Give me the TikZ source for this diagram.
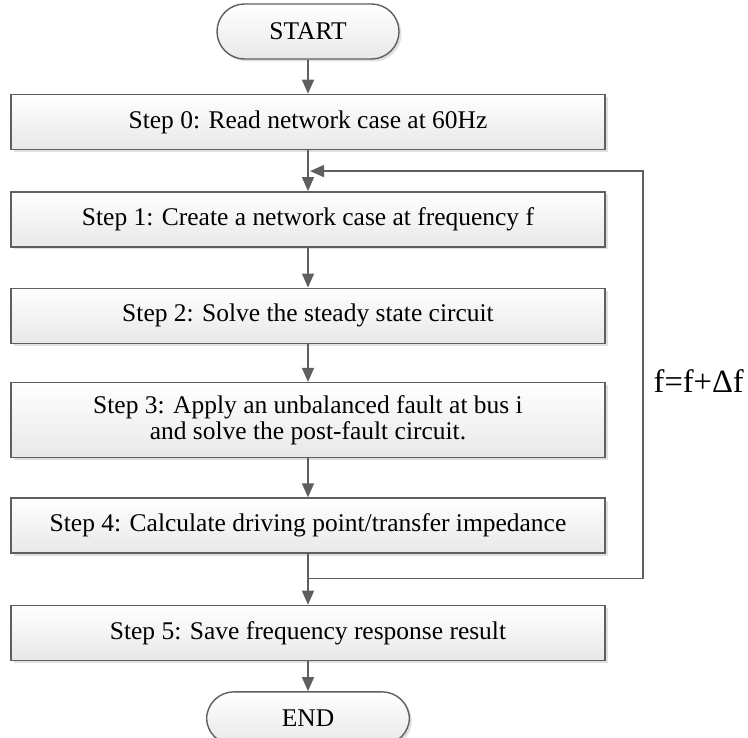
\documentclass[tikz,border=0pt]{standalone}
\usepackage{fontspec}
\setmainfont{Liberation Serif}
\usetikzlibrary{positioning,arrows.meta,shadows}

\definecolor{linegray}{HTML}{5F5F5F}

\tikzset{
  stepbox/.style={draw=linegray, line width=0.8pt, top color=white, bottom color=black!9,
    minimum width=11.88cm, minimum height=1.1cm, align=center,
    drop shadow={shadow xshift=0.05cm, shadow yshift=-0.05cm, fill=black!12, opacity=1}},
  term/.style={stepbox, rounded corners=0.55cm, minimum width=3.64cm},
  arr/.style={draw=linegray, line width=0.8pt, -{Triangle[length=0.28cm,width=0.24cm]}},
  every node/.style={font=\fontsize{14.5}{15}\selectfont},
}

\begin{document}
\begin{tikzpicture}
  \useasboundingbox (0,0) rectangle (14.96,-14.76);

  \node[term] (start) at (6.16,-0.63) {START};
  \node[stepbox, below=0.68cm of start] (step0) {Step 0: Read network case at 60Hz};
  \node[stepbox, below=0.82cm of step0] (step1) {Step 1: Create a network case at frequency f};
  \node[stepbox, below=0.8cm of step1] (step2) {Step 2: Solve the steady state circuit};
  \node[stepbox, below=0.76cm of step2, minimum height=1.5cm] (step3)
    {Step 3: Apply an unbalanced fault at bus i\\ and solve the post-fault circuit.};
  \node[stepbox, below=0.78cm of step3] (step4) {Step 4: Calculate driving point/transfer impedance};
  \node[stepbox, below=1.02cm of step4] (step5) {Step 5: Save frequency response result};
  \node[term, below=0.6cm of step5, minimum width=4.06cm, minimum height=1.06cm] (end) {END};

  % joints of the frequency loop
  \coordinate[below=0.42cm of step0] (back);
  \coordinate[below=0.5cm of step4] (merge);

  \draw[arr] (start) -- (step0);
  \draw[arr] (step0) -- (step1);
  \draw[arr] (step1) -- (step2);
  \draw[arr] (step2) -- (step3);
  \draw[arr] (step3) -- (step4);
  \draw[arr] (step4) -- (step5);
  \draw[arr] (step5) -- (end);

  % loop back with the next frequency
  \draw[arr, shorten >=0.04cm] (merge) -- ++(6.7cm,0) coordinate (corner)
    -- (corner |- back) node[midway, anchor=west, inner sep=0, xshift=0.2cm, yshift=-0.12cm,
       font=\fontsize{18.5}{22}\selectfont] {f=f+Δf}
    -- (back);
\end{tikzpicture}
\end{document}
